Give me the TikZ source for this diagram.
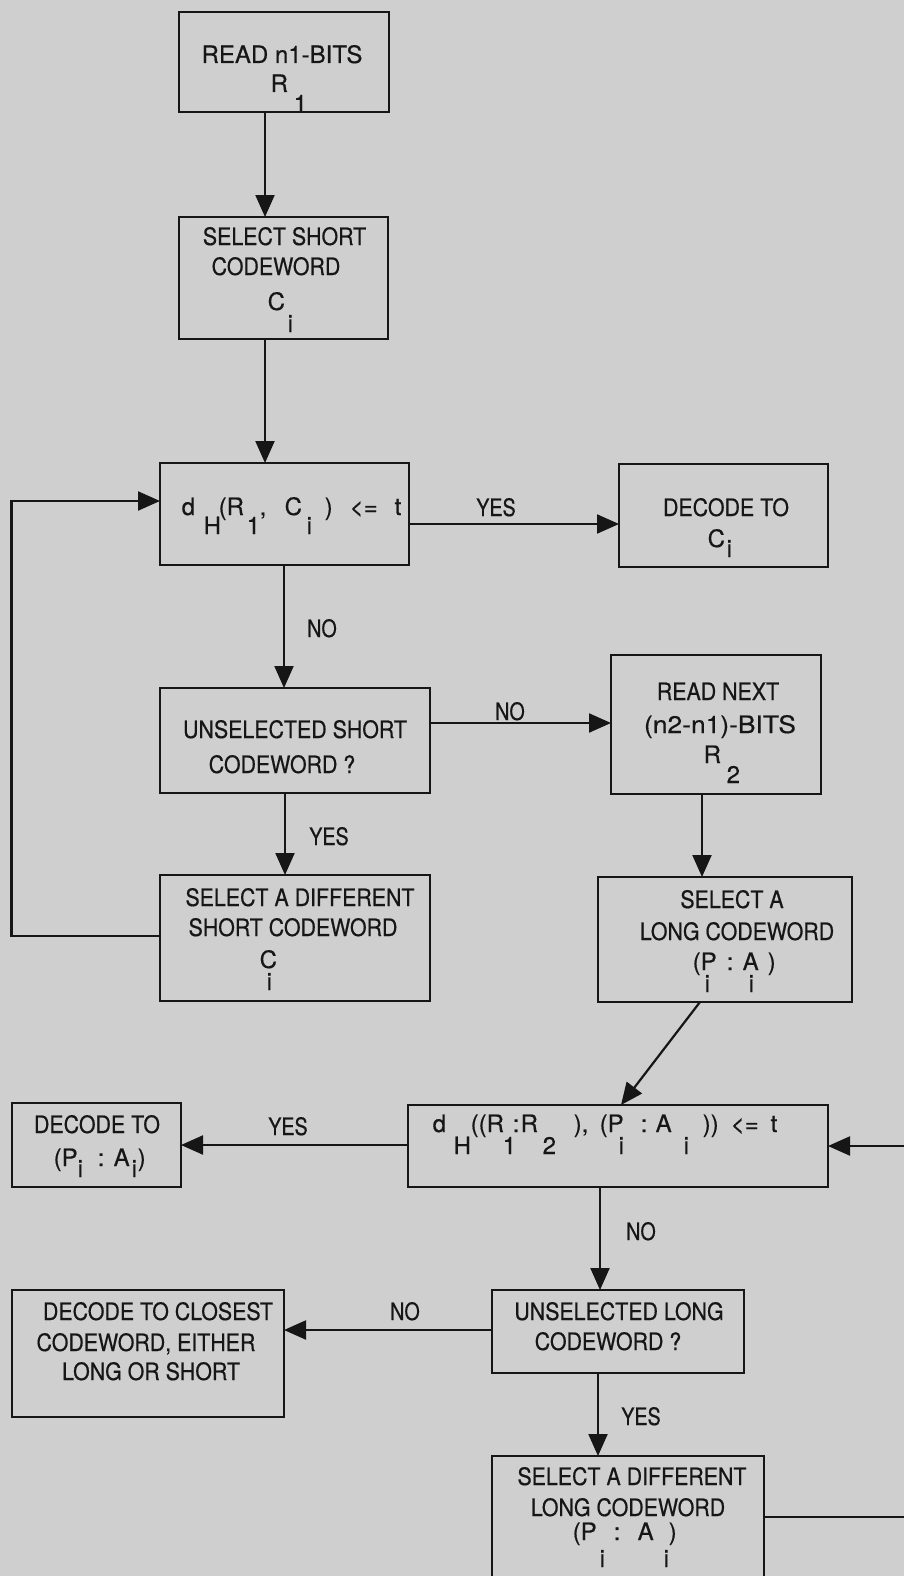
\documentclass[tikz,border=0pt]{standalone}
\usepackage{fontspec}
\setmainfont[FakeBold=0.5]{TeX Gyre Heros}
\newfontfamily\cnd[FakeStretch=0.89,FakeBold=0.5]{TeX Gyre Heros}
\newfontfamily\cndd[FakeStretch=0.82,FakeBold=0.5]{TeX Gyre Heros}
\newfontfamily\wid[FakeStretch=1.1,FakeBold=0.5]{TeX Gyre Heros}
\usetikzlibrary{arrows.meta}
\definecolor{paper}{RGB}{207,207,207}
\definecolor{ink}{RGB}{22,22,22}
\newcommand\at[2]{\makebox[0pt][l]{\hspace*{#1pt}#2}}
\newcommand\atl[3]{\makebox[0pt][l]{\hspace*{#1pt}\raisebox{-#2pt}{#3}}}
\begin{document}
\begin{tikzpicture}[x=1pt,y=-1pt,
  box/.style={draw=ink, line width=2.8pt, fill=paper, inner sep=0pt, outer sep=0pt},
  txt/.style={anchor=base, inner sep=0pt, text=ink, font=\fontsize{24}{28}\cnd},
  txtn/.style={anchor=base, inner sep=0pt, text=ink, font=\fontsize{24}{28}\selectfont\normalfont},
  txtw/.style={anchor=base, inner sep=0pt, text=ink, font=\fontsize{24}{28}\wid},
  frm/.style={anchor=base west, inner sep=0pt, text=ink, font=\fontsize{24}{28}\selectfont\normalfont},
  lbl/.style={anchor=base, inner sep=0pt, text=ink, font=\fontsize{24}{28}\cndd},
  arr/.style={draw=ink, line width=2.2pt, -{Triangle[length=22pt,width=19pt]}},
  ln/.style={draw=ink, line width=2.2pt}
]
\useasboundingbox (0,0) rectangle (904,1576);
\fill[paper] (0,0) rectangle (904,1576);
\clip (0,0) rectangle (904,1576);

% boxes
\node[box, minimum width=210pt, minimum height=100pt] (read) at (284,62) {};
\node[box, minimum width=209pt, minimum height=122pt] (selshort) at (283.5,278) {};
\node[box, minimum width=249pt, minimum height=102pt] (dh1) at (284.5,514) {};
\node[box, minimum width=209pt, minimum height=103pt] (dec1) at (723.5,515.5) {};
\node[box, minimum width=270pt, minimum height=105pt] (unsshort) at (295,740.5) {};
\node[box, minimum width=210pt, minimum height=139pt] (readnext) at (716,724.5) {};
\node[box, minimum width=270pt, minimum height=126pt] (seldiffshort) at (295,938) {};
\node[box, minimum width=254pt, minimum height=125pt] (sellong) at (725,939.5) {};
\node[box, minimum width=420pt, minimum height=82pt] (dh2) at (618,1146) {};
\node[box, minimum width=169pt, minimum height=84pt] (dec2) at (96.5,1145) {};
\node[box, minimum width=252pt, minimum height=83pt] (unslong) at (618,1331.5) {};
\node[box, minimum width=272pt, minimum height=127pt] (closest) at (148,1353.5) {};
\node[box, minimum width=272pt, minimum height=164pt] (seldifflong) at (628,1538) {};

% texts
\node[txtn] (t1a) at (282,63) {READ n1-BITS};
\node[frm] (t1b) at (270,92) {\at{0}{R}\atl{23}{20}{1}};

\node[txt] (t2a) at (284.5,245) {SELECT SHORT};
\node[txt] (t2b) at (276,275) {CODEWORD};
\node[frm] (t2c) at (267,310) {\at{0}{C}\atl{20}{22}{i}};

\node[frm] (t3) at (181,515) {\at{0}{d}\atl{22}{19}{H}\at{37}{(R}\atl{65}{19}{1}\at{78}{,}\at{103}{C}\atl{125}{19}{i}\at{143}{)}\at{168}{<=}\at{213}{t}};

\node[txt] (t4a) at (726,516) {DECODE TO};
\node[frm] (t4b) at (707,547) {\at{0}{C}\atl{19}{10}{i}};

\node[txt] (t5a) at (295,738) {UNSELECTED SHORT};
\node[txt] (t5b) at (282,773) {CODEWORD ?};

\node[txt] (t6a) at (718,700) {READ NEXT};
\node[txtw] (t6b) at (720,733) {(n2-n1)-BITS};
\node[frm] (t6c) at (703,763) {\at{0}{R}\atl{23}{20}{2}};

\node[txt] (t7a) at (300,906) {SELECT A DIFFERENT};
\node[txt] (t7b) at (293,936) {SHORT CODEWORD};
\node[frm] (t7c) at (259,968) {\at{0}{C}\atl{7}{22}{i}};

\node[txt] (t8a) at (732,908) {SELECT A};
\node[txt] (t8b) at (737,940) {LONG CODEWORD};
\node[frm] (t8c) at (692,970) {\at{0}{(P}\atl{12}{22}{i}\at{34}{:}\at{50}{A}\atl{56}{22}{i}\at{75}{)}};

\node[frm] (t9) at (432,1132) {\at{0}{d}\atl{21}{22}{H}\at{38}{((R}\atl{70}{22}{1}\at{80}{:}\at{88}{R}\atl{110}{22}{2}\at{141}{),}\at{167}{(P}\atl{186}{22}{i}\at{208}{:}\at{223}{A}\atl{251}{22}{i}\at{270}{))}\at{298}{<=}\at{338}{t}};

\node[txt] (t10a) at (97,1133) {DECODE TO};
\node[frm] (t10b) at (53,1166) {\at{0}{(P}\atl{24}{11}{i}\at{44}{:}\at{60}{A}\atl{78}{11}{i}\at{84}{)}};

\node[txt] (t11a) at (619,1320) {UNSELECTED LONG};
\node[txt] (t11b) at (608,1350) {CODEWORD ?};

\node[txt] (t12a) at (158,1320) {DECODE TO CLOSEST};
\node[txt] (t12b) at (146,1351) {CODEWORD, EITHER};
\node[txt] (t12c) at (151,1380) {LONG OR SHORT};

\node[txt] (t13a) at (632,1485) {SELECT A DIFFERENT};
\node[txt] (t13b) at (628,1516) {LONG CODEWORD};
\node[frm] (t13c) at (572,1540) {\at{0}{(P}\atl{27}{27}{i}\at{41}{:}\at{65}{A}\atl{91}{27}{i}\at{96}{)}};

% labels
\node[lbl] (l1) at (496,516) {YES};
\node[lbl] (l2) at (322,637) {NO};
\node[lbl] (l3) at (510,720) {NO};
\node[lbl] (l4) at (329,845) {YES};
\node[lbl] (l5) at (288,1135) {YES};
\node[lbl] (l6) at (641,1240) {NO};
\node[lbl] (l7) at (405,1320) {NO};
\node[lbl] (l8) at (641,1425) {YES};

% helper coordinates
\coordinate (xa) at (265,0);
\coordinate (xb) at (284,0);
\coordinate (xc) at (285,0);
\coordinate (xd) at (702,0);
\coordinate (xe) at (700,0);
\coordinate (xf) at (621,0);
\coordinate (xg) at (600,0);
\coordinate (xh) at (598,0);
\coordinate (ya) at (0,524);
\coordinate (yb) at (0,723);
\coordinate (yc) at (0,936);
\coordinate (yd) at (0,501);
\coordinate (ye) at (0,1145);
\coordinate (yf) at (0,1330);
\coordinate (yg) at (0,1517);
\coordinate (yh) at (0,1146);
\coordinate (lpl) at (11.5,501);
\coordinate (lpr) at (930,1146);

% connectors
\draw[arr] (read.south -| xa) -- (selshort.north -| xa);
\draw[arr] (selshort.south -| xa) -- (dh1.north -| xa);
\draw[arr] (dh1.east |- ya) -- (dec1.west |- ya);
\draw[arr] (dh1.south -| xb) -- (unsshort.north -| xb);
\draw[arr] (unsshort.east |- yb) -- (readnext.west |- yb);
\draw[arr] (unsshort.south -| xc) -- (seldiffshort.north -| xc);
\draw[arr] (seldiffshort.west |- yc) -| (lpl) -- (dh1.west |- yd);
\draw[arr] (readnext.south -| xd) -- (sellong.north -| xd);
\draw[arr] (sellong.south -| xe) -- (dh2.north -| xf);
\draw[arr] (dh2.west |- ye) -- (dec2.east |- ye);
\draw[arr] (dh2.south -| xg) -- (unslong.north -| xg);
\draw[arr] (unslong.west |- yf) -- (closest.east |- yf);
\draw[arr] (unslong.south -| xh) -- (seldifflong.north -| xh);
\draw[arr] (seldifflong.east |- yg) -| (lpr) -- (dh2.east |- yh);
\end{tikzpicture}
\end{document}
